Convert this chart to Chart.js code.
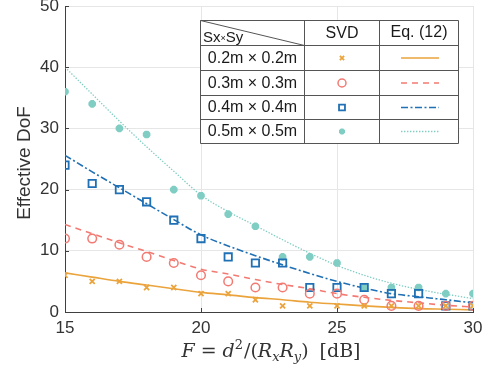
<!DOCTYPE html>
<html><head><meta charset="utf-8">
<script src="https://cdn.jsdelivr.net/npm/chart.js@4/dist/chart.umd.min.js"></script>
<style>html,body{margin:0;padding:0;background:#fff}#wrap{width:487px;height:368px}</style>
</head><body><div id="wrap"><canvas id="c" width="487" height="368"></canvas></div>
<script>
// ---- data ----
const xValues = [15,16,17,18,19,20,21,22,23,24,25,26,27,28,29,30];
const svd02 = [6,5,5,4,4,3,3,2,1,1,1,1,1,1,1,1];
const svd03 = [12,12,11,9,8,6,5,4,4,3,3,2,1,1,1,1];
const svd04 = [24,21,20,18,15,12,9,8,8,4,4,4,3,3,1,1];
const svd05 = [36,34,30,29,20,19,16,14,9,9,8,4,4,4,3,3];
const eq02 = [6.4,5.7,5.0,4.4,3.8,3.2,2.8,2.35,2.0,1.6,1.3,1.0,0.75,0.55,0.45,0.35];
const eq03 = [14.3,12.8,11.3,9.9,8.4,7.0,6.2,5.3,4.5,3.8,3.0,2.4,1.9,1.5,1.1,0.8];
const eq04 = [25.6,22.9,20.3,17.7,15.1,12.6,10.8,9.2,7.7,6.3,5.0,3.9,3.0,2.5,2.0,1.5];
const eq05 = [40,35.6,31.2,27,23,19.1,16.4,14.1,11.8,9.6,7.6,6.0,4.7,3.7,2.9,2.2];
const xTicks = [15,20,25,30];
const yTicks = [0,10,20,30,40,50];
const sizeLabels = ['0.2m \u00d7 0.2m','0.3m \u00d7 0.3m','0.4m \u00d7 0.4m','0.5m \u00d7 0.5m'];
const headerLabels = ['SVD','Eq. (12)'];
const yTitle = 'Effective DoF';

const colors = ['#eba33c','#f37a72','#1f70b4','#80cdc4'];
const dashes = [[],[6,5],[7,2.5,2,2.5],[1.4,1.6]];
const markers = [
  {style:'crossRot', r:3.6, w:1.8, fill:false},
  {style:'circle', r:4.3, w:1.5, fill:false},
  {style:'rect', r:5.2, w:1.8, fill:false},
  {style:'star', r:3.8, w:2.8, fill:true}
];
const svdSets = [svd02,svd03,svd04,svd05];
const eqSets = [eq02,eq03,eq04,eq05];
const pts = arr => arr.map((v,i)=>({x:xValues[i], y:v}));

const datasets = [];
eqSets.forEach((s,i)=>{
  datasets.push({type:'line', data:pts(s), borderColor:colors[i], borderWidth:i===3?1.3:1.6,
    borderDash:dashes[i], pointRadius:0, cubicInterpolationMode:'monotone', fill:false, order:2});
});
svdSets.forEach((s,i)=>{
  const m = markers[i];
  datasets.push({type:'line', data:pts(s), showLine:false, pointStyle:m.style, pointRadius:m.r,
    pointBorderWidth:m.w, pointBorderColor:colors[i], pointBackgroundColor:m.fill?colors[i]:'rgba(0,0,0,0)',
    borderColor:colors[i], order:1});
});

function drawMarker(ctx, m, color, x, y){
  ctx.save();
  ctx.strokeStyle=color; ctx.fillStyle=color; ctx.lineWidth=m.w; ctx.setLineDash([]);
  const r=m.r;
  ctx.beginPath();
  if(m.style==='circle'){ ctx.arc(x,y,r,0,Math.PI*2); ctx.stroke(); }
  else if(m.style==='rect'){ const s=r/Math.SQRT2; ctx.rect(x-s,y-s,2*s,2*s); ctx.stroke(); }
  else if(m.style==='crossRot'){ const d=r*Math.SQRT1_2; ctx.moveTo(x-d,y-d);ctx.lineTo(x+d,y+d);ctx.moveTo(x-d,y+d);ctx.lineTo(x+d,y-d); ctx.stroke(); }
  else { const d=r*Math.SQRT1_2; ctx.moveTo(x-r,y);ctx.lineTo(x+r,y);ctx.moveTo(x,y-r);ctx.lineTo(x,y+r);
    ctx.moveTo(x-d,y-d);ctx.lineTo(x+d,y+d);ctx.moveTo(x-d,y+d);ctx.lineTo(x+d,y-d); ctx.stroke(); }
  ctx.restore();
}

const zeroPad = s => { s.paddingTop=0; s.paddingBottom=0; s.paddingLeft=0; s.paddingRight=0; };

const decor = {
  id:'decor',
  afterDraw(chart){
    const ctx=chart.ctx, a=chart.chartArea, xs=chart.scales.x, ys=chart.scales.y;
    ctx.save();
    // inward ticks
    ctx.strokeStyle='#404040'; ctx.lineWidth=1; ctx.setLineDash([]);
    ctx.beginPath();
    xTicks.forEach(v=>{const px=Math.round(xs.getPixelForValue(v))+0.5; ctx.moveTo(px,a.bottom); ctx.lineTo(px,a.bottom-4);});
    yTicks.forEach(v=>{const py=Math.round(ys.getPixelForValue(v))+0.5; ctx.moveTo(a.left,py); ctx.lineTo(a.left+4,py);});
    ctx.stroke();
    // y title
    ctx.save();
    ctx.translate(25,(a.top+a.bottom)/2+4);
    ctx.rotate(-Math.PI/2);
    ctx.fillStyle='#333'; ctx.font='19px "Liberation Sans", Arial, sans-serif';
    ctx.textAlign='center'; ctx.textBaseline='middle';
    ctx.fillText(yTitle,0,0);
    ctx.restore();
    // x title (math)
    const fs=19, sfs=13;
    const parts=[
      ['F','italic',fs,0,0],['=','',fs,0,6],['d','italic',fs,0,6],['2','',sfs,-8,0],['/(','',fs,0,1],
      ['R','italic',fs,0,0],['x','italic',sfs,4,0],['R','italic',fs,0,0],['y','italic',sfs,4,0],[')','',fs,0,0],['[dB]','',fs,0,11]
    ];
    const fam='"DejaVu Serif","Liberation Serif",serif';
    let total=0;
    parts.forEach(p=>{ctx.font=(p[1]?p[1]+' ':'')+p[2]+'px '+fam; p.push(ctx.measureText(p[0]).width); total+=p[5]+p[4];});
    let cx=(a.left+a.right)/2+2-total/2;
    const base=357;
    ctx.fillStyle='#333'; ctx.textAlign='left'; ctx.textBaseline='alphabetic';
    parts.forEach(p=>{cx+=p[4]; ctx.font=(p[1]?p[1]+' ':'')+p[2]+'px '+fam; ctx.fillText(p[0],cx,base+p[3]); cx+=p[5];});
    // legend table
    const cols=[200.5,304.5,379.5,458.5], rows=[20.5,45.5,70.5,95.5,119.5,143.5];
    ctx.fillStyle='#fff'; ctx.fillRect(cols[0],rows[0],cols[3]-cols[0],rows[5]-rows[0]);
    ctx.strokeStyle='#555'; ctx.lineWidth=1;
    ctx.beginPath();
    cols.forEach(c=>{ctx.moveTo(c,rows[0]);ctx.lineTo(c,rows[5]);});
    rows.forEach(r=>{ctx.moveTo(cols[0],r);ctx.lineTo(cols[3],r);});
    ctx.moveTo(cols[0],rows[0]); ctx.lineTo(cols[1],rows[1]);
    ctx.stroke();
    ctx.fillStyle='#1a1a1a';
    ctx.font='16px "Liberation Sans", Arial, sans-serif';
    ctx.textAlign='center'; ctx.textBaseline='middle';
    ctx.fillText(headerLabels[0],(cols[1]+cols[2])/2,rows[0]+13.5);
    ctx.fillText(headerLabels[1],(cols[2]+cols[3])/2,rows[0]+12.5);
    // Sx x Sy header
    ctx.textAlign='left'; ctx.textBaseline='alphabetic';
    ctx.font='15px "Liberation Sans", Arial, sans-serif';
    let hx=203; ctx.fillText('Sx',hx,42); hx+=ctx.measureText('Sx').width;
    ctx.font='9px "Liberation Sans", Arial, sans-serif';
    ctx.fillText('\u00d7',hx,41); hx+=ctx.measureText('\u00d7').width;
    ctx.font='15px "Liberation Sans", Arial, sans-serif';
    ctx.fillText('Sy',hx,42);
    ctx.textAlign='center'; ctx.textBaseline='middle';
    ctx.font='16px "Liberation Sans", Arial, sans-serif';
    for(let i=0;i<4;i++){
      const cy=(rows[i+1]+rows[i+2])/2;
      ctx.fillStyle='#1a1a1a';
      ctx.fillText(sizeLabels[i],(cols[0]+cols[1])/2,cy+0.5);
      const lm=Object.assign({},markers[i]);
      if(i===3) lm.r=3; if(i===2) lm.r=4.2; if(i===1) lm.r=4; if(i===0) lm.r=3;
      drawMarker(ctx,lm,colors[i],(cols[1]+cols[2])/2,cy);
      ctx.save();
      ctx.strokeStyle=colors[i]; ctx.lineWidth=i===3?1.3:1.6; ctx.setLineDash(dashes[i]);
      ctx.beginPath(); ctx.moveTo(401,cy); ctx.lineTo(439,cy); ctx.stroke();
      ctx.restore();
    }
    ctx.restore();
  }
};

new Chart(document.getElementById('c'), {
  type:'line',
  data:{datasets},
  options:{
    responsive:false, animation:false, devicePixelRatio:1,
    layout:{autoPadding:false, padding:{left:0,top:6,right:14,bottom:0}},
    plugins:{legend:{display:false}, tooltip:{enabled:false}},
    scales:{
      x:{type:'linear', min:15, max:30,
        afterBuildTicks:s=>{s.ticks=xTicks.map(v=>({value:v}));},
        afterFit:s=>{s.height=56; zeroPad(s);},
        grid:{color:'#e6e6e6', drawTicks:false},
        border:{color:'#404040', width:1},
        ticks:{color:'#333', padding:6, font:{family:'"Liberation Sans", Arial, sans-serif', size:17}, maxRotation:0}
      },
      y:{type:'linear', min:0, max:50,
        afterBuildTicks:s=>{s.ticks=yTicks.map(v=>({value:v}));},
        afterFit:s=>{s.width=65; zeroPad(s);},
        grid:{color:'#e6e6e6', drawTicks:false},
        border:{color:'#404040', width:1},
        ticks:{color:'#333', padding:6, font:{family:'"Liberation Sans", Arial, sans-serif', size:17}}
      }
    }
  },
  plugins:[decor]
});
</script>
</body></html>
